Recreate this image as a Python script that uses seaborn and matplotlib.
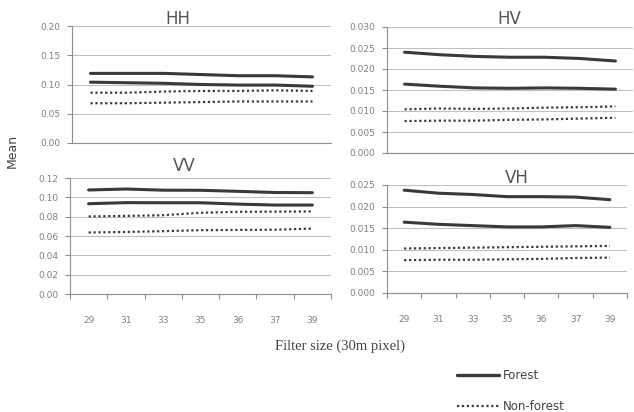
import numpy as np
import pandas as pd
import matplotlib
matplotlib.use("Agg")
import matplotlib.pyplot as plt
import seaborn as sns
from matplotlib.lines import Line2D

sns.set_theme(style="white")
plt.rcParams["font.family"] = ["DejaVu Sans"]

# Filter sizes (categories on the x axis)
sizes = ["29", "31", "33", "35", "36", "37", "39"]

# Mean backscatter per polarisation: two forest and two non-forest series each
hh_forest_a = [0.119, 0.119, 0.119, 0.117, 0.115, 0.115, 0.113]
hh_forest_b = [0.104, 0.103, 0.102, 0.100, 0.099, 0.099, 0.097]
hh_nonforest_a = [0.086, 0.086, 0.088, 0.089, 0.089, 0.090, 0.089]
hh_nonforest_b = [0.068, 0.068, 0.069, 0.070, 0.071, 0.071, 0.071]

hv_forest_a = [0.0240, 0.0234, 0.0230, 0.0228, 0.0228, 0.0225, 0.0219]
hv_forest_b = [0.0164, 0.0159, 0.0155, 0.0154, 0.0155, 0.0154, 0.0152]
hv_nonforest_a = [0.0104, 0.0106, 0.0105, 0.0106, 0.0108, 0.0109, 0.0111]
hv_nonforest_b = [0.0076, 0.0077, 0.0077, 0.0079, 0.0080, 0.0082, 0.0084]

vv_forest_a = [0.1076, 0.1086, 0.1074, 0.1073, 0.1062, 0.1050, 0.1048]
vv_forest_b = [0.0934, 0.0945, 0.0944, 0.0944, 0.0930, 0.0920, 0.0920]
vv_nonforest_a = [0.0802, 0.0808, 0.0815, 0.0840, 0.0850, 0.0852, 0.0854]
vv_nonforest_b = [0.0636, 0.0642, 0.0650, 0.0660, 0.0663, 0.0665, 0.0677]

vh_forest_a = [0.0238, 0.0231, 0.0228, 0.0223, 0.0223, 0.0222, 0.0216]
vh_forest_b = [0.0164, 0.0159, 0.0156, 0.0153, 0.0153, 0.0156, 0.0152]
vh_nonforest_a = [0.0103, 0.0104, 0.0105, 0.0106, 0.0107, 0.0108, 0.0109]
vh_nonforest_b = [0.0076, 0.0077, 0.0077, 0.0078, 0.0079, 0.0081, 0.0082]

panels = {
    "HH": [("Forest", hh_forest_a), ("Forest", hh_forest_b),
           ("Non-forest", hh_nonforest_a), ("Non-forest", hh_nonforest_b)],
    "HV": [("Forest", hv_forest_a), ("Forest", hv_forest_b),
           ("Non-forest", hv_nonforest_a), ("Non-forest", hv_nonforest_b)],
    "VV": [("Forest", vv_forest_a), ("Forest", vv_forest_b),
           ("Non-forest", vv_nonforest_a), ("Non-forest", vv_nonforest_b)],
    "VH": [("Forest", vh_forest_a), ("Forest", vh_forest_b),
           ("Non-forest", vh_nonforest_a), ("Non-forest", vh_nonforest_b)],
}

rows = []
for pol, series in panels.items():
    for k, (cls, vals) in enumerate(series):
        for s, v in zip(sizes, vals):
            rows.append({"pol": pol, "series": k, "cls": cls, "size": s, "value": v})
df = pd.DataFrame(rows)

W, H = 634, 412
fig = plt.figure(figsize=(W / 100, H / 100), dpi=100)
fig.patch.set_facecolor("white")


def px_axes(left, top, right, bottom):
    return fig.add_axes([left / W, 1 - bottom / H, (right - left) / W, (bottom - top) / H])


# axes boxes in pixels: left, top, right, bottom
layout = {
    "HH": (72, 26, 331, 143),
    "HV": (387, 27, 633, 153),
    "VV": (70, 178, 331, 294),
    "VH": (387, 185, 627, 293),
}
yscales = {
    "HH": (0.20, 0.05, "{:.2f}"),
    "HV": (0.030, 0.005, "{:.3f}"),
    "VV": (0.12, 0.02, "{:.2f}"),
    "VH": (0.025, 0.005, "{:.3f}"),
}
title_pos = {"HH": (178, 19), "HV": (509, 19), "VV": (184, 166), "VH": (517, 178)}

line_color = "#3a3a3a"
grid_color = "#c0c0c0"
tick_color = "#8f8f8f"
label_color = "#808080"

for pol, box in layout.items():
    ax = px_axes(*box)
    sub = df[df["pol"] == pol]
    for k in sorted(sub["series"].unique()):
        part = sub[sub["series"] == k]
        forest = part["cls"].iloc[0] == "Forest"
        sns.lineplot(
            data=part, x="size", y="value", ax=ax, color=line_color,
            linewidth=2.2 if forest else 1.6,
            linestyle="-" if forest else (0, (1, 1.2)),
            estimator=None, sort=False, legend=False,
        )
    ymax, step, fmt = yscales[pol]
    ax.set_ylim(0, ymax)
    yt = np.round(np.arange(0, ymax + step / 2, step), 4)
    ax.set_yticks(yt)
    ax.set_yticklabels([fmt.format(v) for v in yt], fontsize=6.5, color=label_color)
    ax.set_xlim(-0.5, len(sizes) - 0.5)
    ax.grid(axis="y", color=grid_color, linewidth=0.8)
    ax.set_axisbelow(True)
    for side in ("top", "right"):
        ax.spines[side].set_visible(False)
    for side in ("left", "bottom"):
        ax.spines[side].set_color(tick_color)
        ax.spines[side].set_linewidth(0.8)
    ax.tick_params(axis="y", left=True, length=3.5, width=0.8, color=tick_color, pad=5)
    ax.set_xlabel("")
    ax.set_ylabel("")
    if pol in ("VV", "VH"):
        ax.set_xticks(range(len(sizes)))
        ax.set_xticklabels(sizes, fontsize=6.5, color=label_color)
        ax.tick_params(axis="x", bottom=False, pad=10)
        ax.set_xticks(np.arange(-0.5, len(sizes) + 0.5, 1), minor=True)
        ax.tick_params(axis="x", which="minor", bottom=True, length=3.5, width=0.8,
                       color=tick_color)
    else:
        ax.set_xticks([])
    tx, ty = title_pos[pol]
    fig.text(tx / W, 1 - ty / H, pol, ha="center", va="center", fontsize=12,
             color="#555555")

fig.text(12 / W, 1 - 151 / H, "Mean", rotation=90, ha="center", va="center",
         fontsize=9, color="#444444")
fig.text(340 / W, 1 - 346 / H, "Filter size (30m pixel)", ha="center", va="center",
         fontsize=10.5, color="#444444", family="Liberation Serif")

handles = [
    Line2D([], [], color=line_color, linewidth=2.4, linestyle="-"),
    Line2D([], [], color=line_color, linewidth=1.6, linestyle=(0, (1, 1.2))),
]
fig.legend(handles, ["Forest", "Non-forest"], loc="center left",
           bbox_to_anchor=(451 / W, 1 - 391 / H), frameon=False, fontsize=8.5,
           handlelength=3.6, handletextpad=0.3, labelspacing=1.5, borderpad=0,
           labelcolor="#444444")

fig.savefig("out.png", dpi=100, facecolor="white")
